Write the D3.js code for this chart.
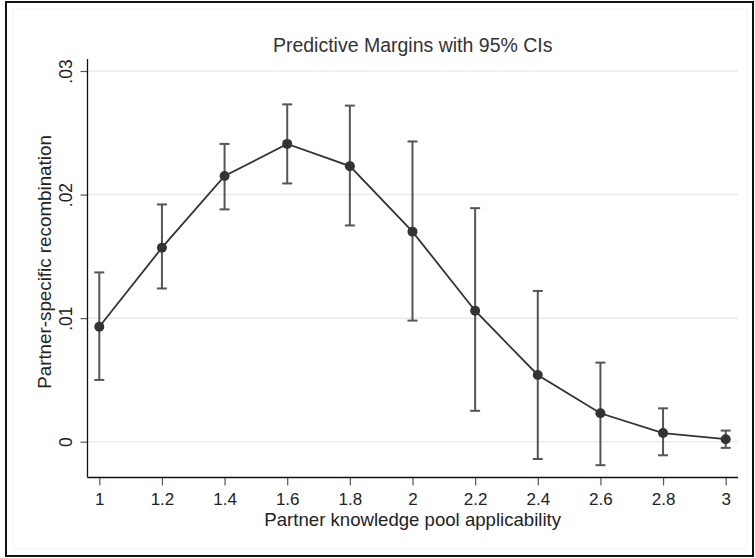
<!DOCTYPE html>
<html>
<head>
<meta charset="utf-8">
<script src="https://cdn.jsdelivr.net/npm/d3@7"></script>
<style>
  body { margin: 0; background: #fff; }
  text { font-family: "Liberation Sans", Arial, sans-serif; }
</style>
</head>
<body>
<div id="chart"></div>
<script>
// data
const xVals = [1, 1.2, 1.4, 1.6, 1.8, 2, 2.2, 2.4, 2.6, 2.8, 3];
const margins = [0.0093, 0.0157, 0.0215, 0.0241, 0.0223, 0.0170, 0.0106, 0.0054, 0.0023, 0.0007, 0.0002];
const ciLow = [0.0050, 0.0124, 0.0188, 0.0209, 0.0175, 0.0098, 0.0025, -0.0014, -0.0019, -0.0011, -0.0005];
const ciHigh = [0.0137, 0.0192, 0.0241, 0.0273, 0.0272, 0.0243, 0.0189, 0.0122, 0.0064, 0.0027, 0.0009];
const xTicks = [1, 1.2, 1.4, 1.6, 1.8, 2, 2.2, 2.4, 2.6, 2.8, 3];
const yTicks = [0, 0.01, 0.02, 0.03];

const width = 755, height = 558;

const svg = d3.select("#chart")
    .append("svg")
    .attr("width", width)
    .attr("height", height);

// outer frame
svg.append("rect")
    .attr("x", 6).attr("y", 2)
    .attr("width", 747).attr("height", 554)
    .attr("fill", "none")
    .attr("stroke", "#111")
    .attr("stroke-width", 2);

// faint graph region outline
svg.append("rect")
    .attr("x", 13).attr("y", 9)
    .attr("width", 734).attr("height", 540)
    .attr("fill", "none")
    .attr("stroke", "#f3f3f3")
    .attr("stroke-width", 1);

const plotLeft = 87.5, plotRight = 738, plotTop = 59, plotBottom = 477.5;

const x = d3.scaleLinear().domain([1, 3]).range([99.3, 725.7]);
const y = d3.scaleLinear().domain([0, 0.03]).range([441.7, 71]);

// gridlines
svg.append("g")
    .selectAll("line")
    .data(yTicks)
    .join("line")
    .attr("x1", plotLeft).attr("x2", plotRight)
    .attr("y1", d => y(d)).attr("y2", d => y(d))
    .attr("stroke", "#ececec")
    .attr("stroke-width", 1.6);

// y axis
const yAxis = svg.append("g")
    .attr("transform", `translate(${plotLeft},0)`)
    .call(d3.axisLeft(y)
        .tickValues(yTicks)
        .tickSize(7)
        .tickPadding(0)
        .tickFormat(d => d === 0 ? "0" : d3.format(".2f")(d).replace(/^0/, "")));
yAxis.select(".domain").remove();
yAxis.selectAll(".tick line").attr("stroke", "#555").attr("stroke-width", 1.2);
yAxis.selectAll(".tick text")
    .attr("transform", "rotate(-90)")
    .attr("x", 0).attr("y", -16)
    .attr("dy", 0)
    .attr("text-anchor", "middle")
    .style("font-size", "17.5px")
    .attr("fill", "#222");

svg.append("line")
    .attr("x1", plotLeft).attr("x2", plotLeft)
    .attr("y1", plotTop).attr("y2", plotBottom)
    .attr("stroke", "#111").attr("stroke-width", 1.3);

// x axis
const xAxis = svg.append("g")
    .attr("transform", `translate(0,${plotBottom})`)
    .call(d3.axisBottom(x)
        .tickValues(xTicks)
        .tickSize(8)
        .tickPadding(0)
        .tickFormat(d3.format("")));
xAxis.select(".domain").remove();
xAxis.selectAll(".tick line").attr("stroke", "#555").attr("stroke-width", 1.2);
xAxis.selectAll(".tick text")
    .attr("y", 27.5)
    .attr("dy", 0)
    .style("font-size", "17px")
    .attr("fill", "#222");

svg.append("line")
    .attr("x1", plotLeft).attr("x2", plotRight)
    .attr("y1", plotBottom).attr("y2", plotBottom)
    .attr("stroke", "#111").attr("stroke-width", 1.3);

// axis titles
svg.append("text")
    .attr("x", 412.7)
    .attr("y", 526)
    .attr("text-anchor", "middle")
    .style("font-size", "18.6px")
    .attr("fill", "#222")
    .text("Partner knowledge pool applicability");

svg.append("text")
    .attr("transform", "translate(50.5,262) rotate(-90)")
    .attr("text-anchor", "middle")
    .style("font-size", "18.8px")
    .attr("fill", "#222")
    .text("Partner-specific recombination");

// title
svg.append("text")
    .attr("x", 412.7)
    .attr("y", 51.5)
    .attr("text-anchor", "middle")
    .style("font-size", "19.5px")
    .attr("fill", "#333")
    .text("Predictive Margins with 95% CIs");

const pts = xVals.map((v, i) => ({x: v, m: margins[i], lo: ciLow[i], hi: ciHigh[i]}));

// confidence intervals
const ci = svg.append("g")
    .attr("stroke", "#555")
    .attr("stroke-width", 2);
ci.selectAll(".bar")
    .data(pts)
    .join("line")
    .attr("class", "bar")
    .attr("x1", d => x(d.x)).attr("x2", d => x(d.x))
    .attr("y1", d => y(d.lo)).attr("y2", d => y(d.hi));
ci.selectAll(".capLo")
    .data(pts)
    .join("line")
    .attr("class", "capLo")
    .attr("x1", d => x(d.x) - 5).attr("x2", d => x(d.x) + 5)
    .attr("y1", d => y(d.lo)).attr("y2", d => y(d.lo));
ci.selectAll(".capHi")
    .data(pts)
    .join("line")
    .attr("class", "capHi")
    .attr("x1", d => x(d.x) - 5).attr("x2", d => x(d.x) + 5)
    .attr("y1", d => y(d.hi)).attr("y2", d => y(d.hi));

// connecting line
const line = d3.line()
    .x(d => x(d.x))
    .y(d => y(d.m));

svg.append("path")
    .datum(pts)
    .attr("fill", "none")
    .attr("stroke", "#333")
    .attr("stroke-width", 1.8)
    .attr("d", line);

// markers
svg.append("g")
    .selectAll("circle")
    .data(pts)
    .join("circle")
    .attr("cx", d => x(d.x))
    .attr("cy", d => y(d.m))
    .attr("r", 5)
    .attr("fill", "#333");
</script>
</body>
</html>
